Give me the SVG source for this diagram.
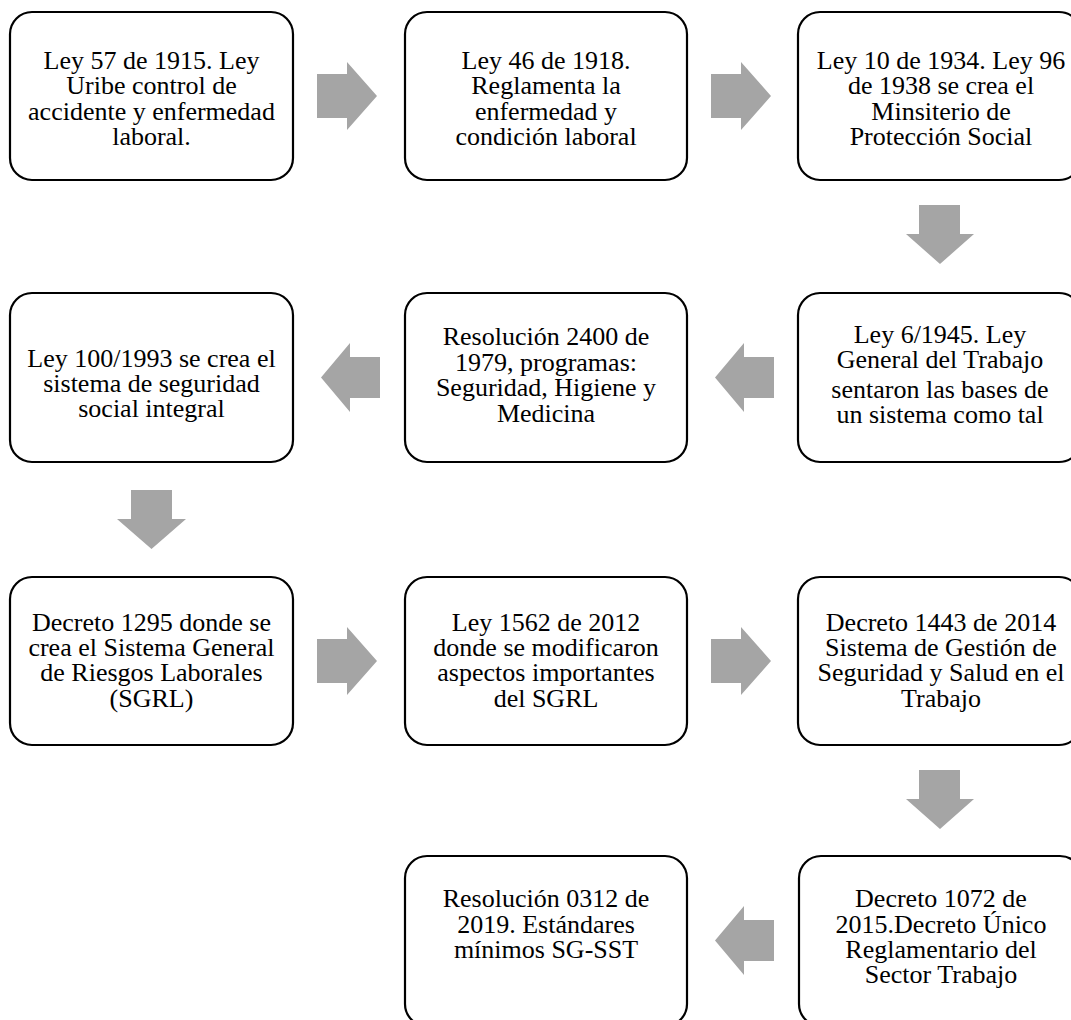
<svg xmlns="http://www.w3.org/2000/svg" width="1071" height="1020" viewBox="0 0 1071 1020">
<style>
.box{fill:#fff;stroke:#000;stroke-width:2.2}
.t{font-family:"Liberation Serif","Times New Roman",serif;font-size:26px;fill:#000;text-anchor:middle}
.arr{fill:#a5a5a5}
</style>
<rect width="1071" height="1020" fill="#fff"/>
<g id="connectors">
<polygon class="arr" points="317,74 347,74 347,62 377,96 347,130 347,118 317,118"/>
<polygon class="arr" points="711,74 741,74 741,62 771,96 741,130 741,118 711,118"/>
<polygon class="arr" points="919,205 960,205 960,234 974,234 940,264 906,234 919,234"/>
<polygon class="arr" points="774,357 744,357 744,343 715,377.5 744,412 744,398 774,398"/>
<polygon class="arr" points="380,357 350,357 350,343 321,377.5 350,412 350,398 380,398"/>
<polygon class="arr" points="131,490 172,490 172,519 186,519 151.5,549 117,519 131,519"/>
<polygon class="arr" points="317,639 347,639 347,627 377,661 347,695 347,683 317,683"/>
<polygon class="arr" points="711,639 741,639 741,627 771,661 741,695 741,683 711,683"/>
<polygon class="arr" points="919,770 960,770 960,799 974,799 940,829 906,799 919,799"/>
<polygon class="arr" points="774,920 744,920 744,906 715,940.5 744,975 744,961 774,961"/>
</g>
<g id="n1">
<rect class="box" x="10" y="12" width="283" height="168" rx="22"/>
<text class="t"><tspan x="151.5" y="69">Ley 57 de 1915. Ley</tspan><tspan x="151.5" y="94.3">Uribe control de</tspan><tspan x="151.5" y="119.6">accidente y enfermedad</tspan><tspan x="151.5" y="145">laboral.</tspan></text>
</g>
<g id="n2">
<rect class="box" x="405" y="12" width="282" height="168" rx="22"/>
<text class="t"><tspan x="546" y="69">Ley 46 de 1918.</tspan><tspan x="546" y="94.3">Reglamenta la</tspan><tspan x="546" y="119.6">enfermedad y</tspan><tspan x="546" y="145">condición laboral</tspan></text>
</g>
<g id="n3">
<rect class="box" x="798" y="12" width="283" height="168" rx="22"/>
<text class="t"><tspan x="941" y="69">Ley 10 de 1934. Ley 96</tspan><tspan x="941" y="94.3">de 1938 se crea el</tspan><tspan x="941" y="119.6">Minsiterio de</tspan><tspan x="941" y="145">Protección Social</tspan></text>
</g>
<g id="n4">
<rect class="box" x="798" y="293" width="283" height="169" rx="22"/>
<text class="t"><tspan x="940" y="343">Ley 6/1945. Ley</tspan><tspan x="940" y="368">General del Trabajo</tspan><tspan x="940" y="398">sentaron las bases de</tspan><tspan x="940" y="423">un sistema como tal</tspan></text>
</g>
<g id="n5">
<rect class="box" x="405" y="293" width="282" height="169" rx="22"/>
<text class="t"><tspan x="546" y="345">Resolución 2400 de</tspan><tspan x="546" y="370.5">1979, programas:</tspan><tspan x="546" y="396">Seguridad, Higiene y</tspan><tspan x="546" y="421.5">Medicina</tspan></text>
</g>
<g id="n6">
<rect class="box" x="10" y="293" width="283" height="169" rx="22"/>
<text class="t"><tspan x="151.5" y="367">Ley 100/1993 se crea el</tspan><tspan x="151.5" y="392">sistema de seguridad</tspan><tspan x="151.5" y="417">social integral</tspan></text>
</g>
<g id="n7">
<rect class="box" x="10" y="577" width="283" height="168" rx="22"/>
<text class="t"><tspan x="151.5" y="631">Decreto 1295 donde se</tspan><tspan x="151.5" y="656">crea el Sistema General</tspan><tspan x="151.5" y="681">de Riesgos Laborales</tspan><tspan x="151.5" y="707">(SGRL)</tspan></text>
</g>
<g id="n8">
<rect class="box" x="405" y="577" width="282" height="168" rx="22"/>
<text class="t"><tspan x="546" y="631">Ley 1562 de 2012</tspan><tspan x="546" y="656">donde se modificaron</tspan><tspan x="546" y="681">aspectos importantes</tspan><tspan x="546" y="707">del SGRL</tspan></text>
</g>
<g id="n9">
<rect class="box" x="798" y="577" width="283" height="168" rx="22"/>
<text class="t"><tspan x="941" y="631">Decreto 1443 de 2014</tspan><tspan x="941" y="656">Sistema de Gestión de</tspan><tspan x="941" y="681">Seguridad y Salud en el</tspan><tspan x="941" y="707">Trabajo</tspan></text>
</g>
<g id="n10">
<rect class="box" x="799" y="856" width="283" height="170" rx="22"/>
<text class="t"><tspan x="941" y="907">Decreto 1072 de</tspan><tspan x="941" y="933">2015.Decreto Único</tspan><tspan x="941" y="958">Reglamentario del</tspan><tspan x="941" y="983">Sector Trabajo</tspan></text>
</g>
<g id="n11">
<rect class="box" x="405" y="856" width="282" height="170" rx="22"/>
<text class="t"><tspan x="546" y="907">Resolución 0312 de</tspan><tspan x="546" y="933">2019. Estándares</tspan><tspan x="546" y="958">mínimos SG-SST</tspan></text>
</g>
</svg>
